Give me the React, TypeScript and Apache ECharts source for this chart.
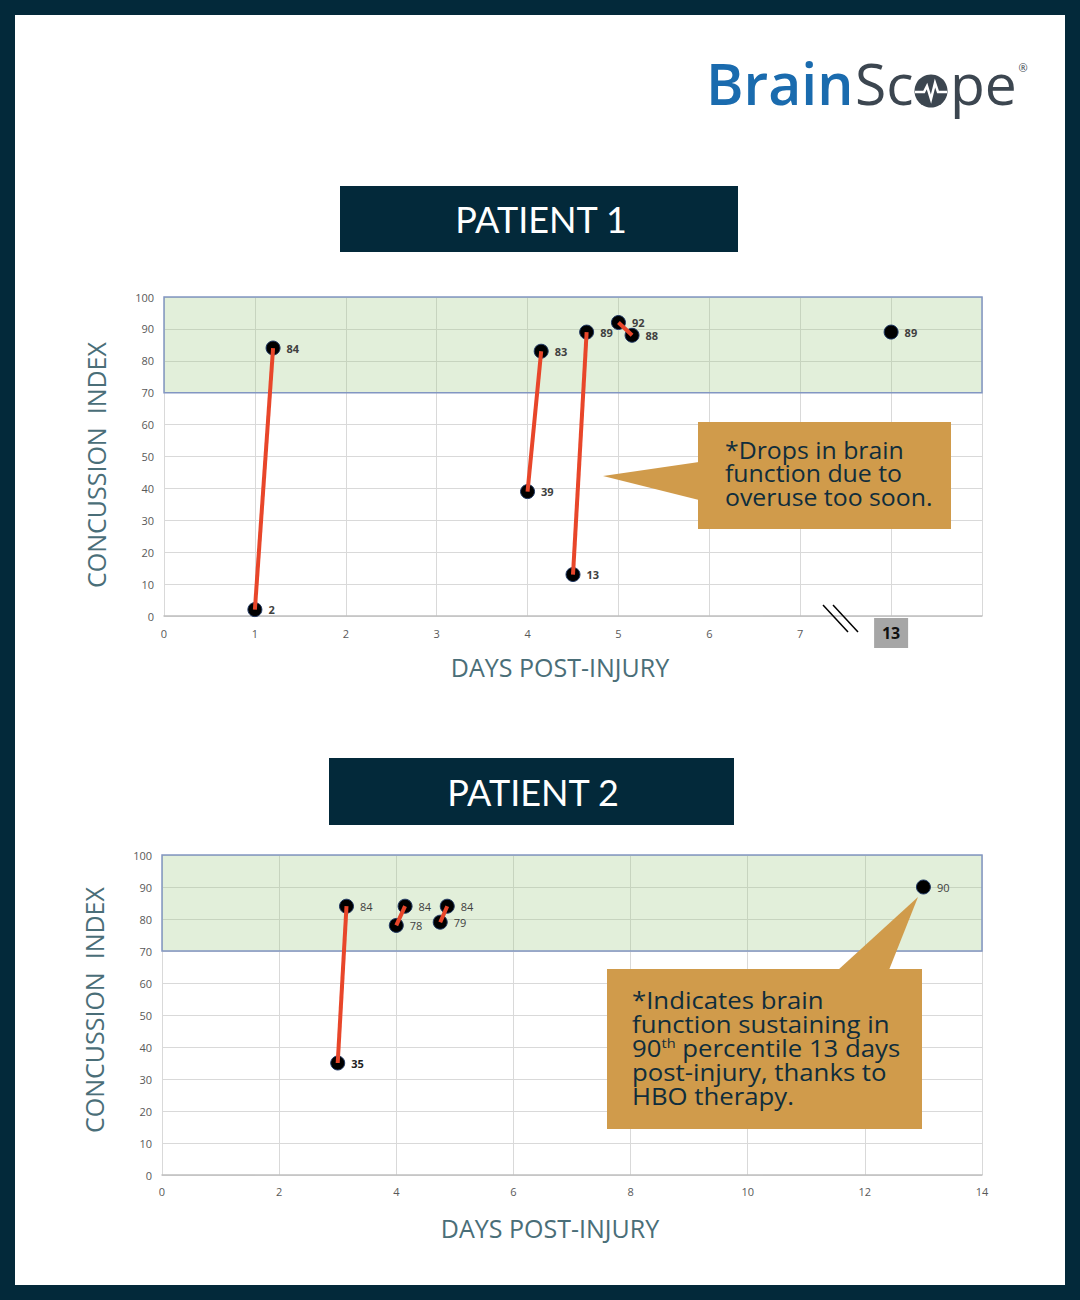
import React, { useEffect, useRef } from 'react';
import * as echarts from 'echarts';

// ---------- data ----------
// Patient 1 (x = day; the last point is plotted at slot 8 which stands for day 13)
const p1Days = [1, 1.2, 4, 4.15, 4.5, 4.65, 5.0, 5.15, 8];
const p1Index = [2, 84, 39, 83, 13, 89, 92, 88, 89];
const p1Links = [[0, 1], [2, 3], [4, 5], [6, 7]];
const p1XTickLabels = ['0', '1', '2', '3', '4', '5', '6', '7', '13', ''];

// Patient 2
const p2Days = [3, 3.15, 4, 4.15, 4.75, 4.87, 13];
const p2Index = [35, 84, 78, 84, 79, 84, 90];
const p2Links = [[0, 1], [2, 3], [4, 5]];
const p2BoldLabels = [0];

const healthyBand = [70, 100];

const yAxisTitle = 'CONCUSSION  INDEX';
const xAxisTitle = 'DAYS POST-INJURY';
const callout1Text = '*Drops in brain\nfunction due to\noveruse too soon.';
const callout2Text = '*Indicates brain\nfunction sustaining in\n90{sup|th} percentile 13 days\npost-injury, thanks to\nHBO therapy.';

// ---------- styles ----------
const NAVY = '#03293A';
const TEAL = '#4A6E78';
const GOLD = '#D09B4B';
const RED = '#E8462A';
const GRID = '#D9D9D9';
const TICK = '#595959';

function buildSeries(gi: number, days: number[], vals: number[], links: number[][], boldAll: boolean, boldIdx: number[]) {
  const scatter: any = {
    type: 'scatter',
    xAxisIndex: gi,
    yAxisIndex: gi,
    z: 2,
    symbolSize: 14,
    itemStyle: { color: '#000', borderColor: '#1F3864', borderWidth: 1, opacity: 1 },
    label: {
      show: true,
      position: 'right',
      distance: 6,
      fontSize: 11,
      fontFamily: 'Open Sans',
      color: '#404040',
      fontWeight: boldAll ? 'bold' : 'normal',
      formatter: (p: any) => String(p.value[1]),
    },
    data: days.map((d, i) =>
      boldIdx.includes(i)
        ? { value: [d, vals[i]], label: { fontWeight: 'bold', color: '#222' } }
        : { value: [d, vals[i]] }
    ),
    markArea: {
      silent: true,
      itemStyle: { color: 'rgba(158,202,132,0.3)', borderColor: '#8296C2', borderWidth: 1.5 },
      data: [[{ yAxis: healthyBand[0] }, { yAxis: healthyBand[1] }]],
    },
  };
  const lines = links.map(([a, b]) => ({
    type: 'line',
    xAxisIndex: gi,
    yAxisIndex: gi,
    z: 3,
    silent: true,
    symbol: 'none',
    showSymbol: false,
    lineStyle: { color: RED, width: 4 },
    data: [[days[a], vals[a]], [days[b], vals[b]]],
  }));
  return [scatter, ...lines];
}

const axisNameStyle = { color: TEAL, fontSize: 25, fontFamily: 'Open Sans' };

function yAxis(gi: number, pad: number[]) {
  return {
    gridIndex: gi,
    type: 'value',
    min: 0,
    max: 100,
    interval: 10,
    axisLine: { show: true, lineStyle: { color: GRID, width: 1 } },
    axisTick: { show: false },
    splitLine: { show: true, lineStyle: { color: GRID, width: 1 } },
    axisLabel: { margin: 10, color: TICK, fontSize: 11, fontFamily: 'Open Sans' },
    name: yAxisTitle,
    nameLocation: 'middle',
    nameRotate: 90,
    nameGap: 56,
    nameTextStyle: { ...axisNameStyle, padding: pad },
  };
}

const option: any = {
  animation: false,
  backgroundColor: 'transparent',
  grid: [
    { left: 164, top: 297, width: 818, height: 319, containLabel: false },
    { left: 162, top: 855, width: 820, height: 320, containLabel: false },
  ],
  xAxis: [
    {
      gridIndex: 0,
      type: 'value',
      min: 0,
      max: 9,
      interval: 1,
      axisLine: { show: true, lineStyle: { color: '#BFBFBF', width: 1.5 } },
      axisTick: { show: false },
      splitLine: { show: true, lineStyle: { color: GRID, width: 1 } },
      axisLabel: {
        margin: 2,
        color: TICK,
        fontSize: 11,
        fontFamily: 'Open Sans',
        formatter: (v: number) => {
          const t = p1XTickLabels[Math.round(v)] ?? '';
          if (t === '') return '';
          return Math.round(v) === 8 ? `{box|${t}}` : `{n|${t}}`;
        },
        rich: {
          n: { lineHeight: 30, fontSize: 11, color: TICK, fontFamily: 'Open Sans' },
          box: {
            backgroundColor: '#A6A6A6',
            width: 34,
            height: 30,
            lineHeight: 30,
            align: 'center',
            fontSize: 16,
            fontWeight: 'bold',
            color: '#111',
            fontFamily: 'Open Sans',
          },
        },
      },
      name: xAxisTitle,
      nameLocation: 'middle',
      nameGap: 38,
      nameTextStyle: { ...axisNameStyle, padding: [0, 26, 0, 0] },
    },
    {
      gridIndex: 1,
      type: 'value',
      min: 0,
      max: 14,
      interval: 2,
      axisLine: { show: true, lineStyle: { color: '#BFBFBF', width: 1.5 } },
      axisTick: { show: false },
      splitLine: { show: true, lineStyle: { color: GRID, width: 1 } },
      axisLabel: { margin: 11, color: TICK, fontSize: 11, fontFamily: 'Open Sans' },
      name: xAxisTitle,
      nameLocation: 'middle',
      nameGap: 40,
      nameTextStyle: { ...axisNameStyle, padding: [0, 44, 0, 0] },
    },
  ],
  yAxis: [yAxis(0, [0, 17, 0, 0]), yAxis(1, [0, 0, 0, 10])],
  series: [
    ...buildSeries(0, p1Days, p1Index, p1Links, true, []),
    ...buildSeries(1, p2Days, p2Index, p2Links, false, p2BoldLabels),
  ],
  graphic: [
    // logo
    {
      type: 'text',
      x: 706,
      y: 83,
      style: { text: 'Brain', fill: '#1A6BAE', font: '600 57px "Open Sans"', textAlign: 'left', textVerticalAlign: 'middle' },
    },
    {
      type: 'text',
      x: 855,
      y: 83,
      style: { text: 'Sc', fill: '#3C4650', font: '400 57px "Open Sans"', textAlign: 'left', textVerticalAlign: 'middle' },
    },
    { type: 'circle', shape: { cx: 931, cy: 91, r: 16.5 }, style: { fill: '#3C4650' } },
    {
      type: 'polyline',
      shape: { points: [[915, 92], [924, 92], [927, 86], [931, 99], [935, 83], [938, 92], [947, 92]] },
      style: { stroke: '#fff', lineWidth: 2.5, fill: null },
    },
    {
      type: 'text',
      x: 950,
      y: 83,
      style: { text: 'pe', fill: '#3C4650', font: '400 57px "Open Sans"', textAlign: 'left', textVerticalAlign: 'middle' },
    },
    {
      type: 'text',
      x: 1023,
      y: 67,
      style: { text: '®', fill: '#3C4650', font: '11px "Open Sans"', textAlign: 'center', textVerticalAlign: 'middle' },
    },
    // titles
    { type: 'rect', shape: { x: 340, y: 186, width: 398, height: 66 }, style: { fill: NAVY } },
    {
      type: 'text',
      x: 541,
      y: 219,
      style: { text: 'PATIENT 1', fill: '#fff', font: '36px Lato', textAlign: 'center', textVerticalAlign: 'middle' },
    },
    { type: 'rect', shape: { x: 329, y: 758, width: 405, height: 67 }, style: { fill: NAVY } },
    {
      type: 'text',
      x: 533,
      y: 792,
      style: { text: 'PATIENT 2', fill: '#fff', font: '36px Lato', textAlign: 'center', textVerticalAlign: 'middle' },
    },
    // axis break marks
    { type: 'line', z: 50, shape: { x1: 823, y1: 605, x2: 848, y2: 632 }, style: { stroke: '#000', lineWidth: 1.5 } },
    { type: 'line', z: 50, shape: { x1: 833, y1: 605, x2: 858, y2: 632 }, style: { stroke: '#000', lineWidth: 1.5 } },
    // callout 1
    { type: 'rect', z: 100, shape: { x: 698, y: 422, width: 253, height: 107 }, style: { fill: GOLD } },
    { type: 'polygon', z: 100, shape: { points: [[699, 462], [603, 476], [699, 500]] }, style: { fill: GOLD } },
    {
      type: 'text',
      z: 101,
      x: 725,
      y: 438,
      scaleX: 1.08,
      style: { text: callout1Text, fill: '#0F2D3C', font: '23px "Open Sans"', lineHeight: 23.5, textAlign: 'left', textVerticalAlign: 'top' },
    },
    // callout 2
    { type: 'rect', z: 100, shape: { x: 607, y: 969, width: 315, height: 160 }, style: { fill: GOLD } },
    { type: 'polygon', z: 100, shape: { points: [[838, 970], [918, 897], [889, 970]] }, style: { fill: GOLD } },
    {
      type: 'text',
      z: 101,
      x: 632,
      y: 988,
      scaleX: 1.12,
      style: {
        text: callout2Text,
        fill: '#0F2D3C',
        font: '23px "Open Sans"',
        lineHeight: 24,
        textAlign: 'left',
        textVerticalAlign: 'top',
        rich: {
          sup: { fontSize: 13, fontFamily: 'Open Sans', fill: '#0F2D3C', verticalAlign: 'top', lineHeight: 24, padding: [0, 0, 10, 0] },
        },
      },
    },
  ],
};

export default function App() {
  const ref = useRef<HTMLDivElement>(null);
  useEffect(() => {
    document.body.style.margin = '0';
    const chart = echarts.init(ref.current!, null, { renderer: 'svg' });
    chart.setOption(option);
    return () => chart.dispose();
  }, []);
  return (
    <div style={{ position: 'relative', width: 1080, height: 1300, background: NAVY }}>
      <div style={{ position: 'absolute', left: 15, top: 15, width: 1050, height: 1270, background: '#fff' }} />
      <div ref={ref} style={{ position: 'absolute', left: 0, top: 0, width: 1080, height: 1300 }} />
    </div>
  );
}
